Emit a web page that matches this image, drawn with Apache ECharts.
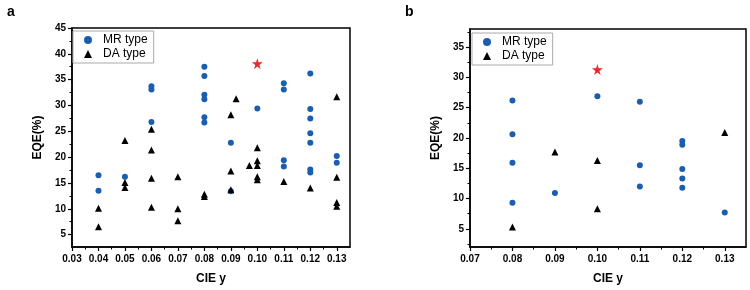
<!DOCTYPE html>
<html>
<head>
<meta charset="utf-8">
<script src="https://cdn.jsdelivr.net/npm/echarts@6/dist/echarts.min.js"></script>
<style>
  html, body { margin: 0; padding: 0; background: #fff; }
  #chart { width: 750px; height: 290px; }
</style>
</head>
<body>
<div id="chart"></div>
<script>
// Panel a: [CIE y, EQE(%)]
const mrA = [
  [0.04, 16.5], [0.04, 13.5], [0.05, 16.2], [0.06, 33.7], [0.06, 33.1], [0.06, 26.8],
  [0.08, 37.5], [0.08, 35.7], [0.08, 32.1], [0.08, 31.2], [0.08, 27.7], [0.08, 26.7],
  [0.09, 22.8], [0.09, 13.4], [0.10, 29.4], [0.11, 34.3], [0.11, 33.1], [0.11, 19.4],
  [0.11, 18.2], [0.12, 36.2], [0.12, 29.3], [0.12, 27.5], [0.12, 24.6], [0.12, 22.8],
  [0.12, 17.6], [0.12, 17.0], [0.13, 20.2], [0.13, 18.9]
];
const daA = [
  [0.04, 10.1], [0.04, 6.5], [0.05, 23.2], [0.05, 15.1], [0.05, 14.1], [0.06, 25.4],
  [0.06, 21.4], [0.06, 15.9], [0.06, 10.3], [0.07, 16.2], [0.07, 10.0], [0.07, 7.7],
  [0.08, 12.8], [0.08, 12.4], [0.09, 28.2], [0.092, 31.3], [0.09, 17.3], [0.09, 13.7],
  [0.097, 18.4], [0.10, 21.8], [0.10, 19.3], [0.10, 18.4], [0.10, 16.2], [0.10, 15.6],
  [0.11, 15.3], [0.12, 14.0], [0.13, 31.7], [0.13, 16.1], [0.13, 11.2], [0.13, 10.5]
];
const starA = [[0.10, 38.1]];

// Panel b
const mrB = [
  [0.08, 26.2], [0.08, 20.6], [0.08, 15.9], [0.08, 9.3], [0.09, 10.9], [0.10, 26.9],
  [0.11, 26.0], [0.11, 15.5], [0.11, 12.0], [0.12, 19.5], [0.12, 18.9], [0.12, 14.9],
  [0.12, 13.3], [0.12, 11.8], [0.13, 7.7]
];
const daB = [[0.08, 5.3], [0.09, 17.7], [0.10, 16.3], [0.10, 8.3], [0.13, 20.9]];
const starB = [[0.10, 31.3]];

// tick values
const xTicksA = [0.03, 0.04, 0.05, 0.06, 0.07, 0.08, 0.09, 0.10, 0.11, 0.12, 0.13];
const xMinorA = [0.035, 0.045, 0.055, 0.065, 0.075, 0.085, 0.095, 0.105, 0.115, 0.125];
const yTicksA = [5, 10, 15, 20, 25, 30, 35, 40, 45];
const yMinorA = [7.5, 12.5, 17.5, 22.5, 27.5, 32.5, 37.5, 42.5];
const xTicksB = [0.07, 0.08, 0.09, 0.10, 0.11, 0.12, 0.13];
const xMinorB = [0.075, 0.085, 0.095, 0.105, 0.115, 0.125];
const yTicksB = [5, 10, 15, 20, 25, 30, 35];
const yMinorB = [2.5, 7.5, 12.5, 17.5, 22.5, 27.5, 32.5, 37.5];

const BLUE = '#1b5eae';
const STAR = 'path://M50,0 L61,35 L98,35 L68,57 L79,91 L50,70 L21,91 L32,57 L2,35 L39,35 Z';
const FONT = 'Liberation Sans, Arial, sans-serif';

const chart = echarts.init(document.getElementById('chart'));

function mainAxis(grid, min, max, ticks, isX, name) {
  return {
    type: 'value', gridIndex: grid, min: min, max: max,
    position: isX ? 'bottom' : 'left',
    name: name, nameLocation: 'middle', nameGap: isX ? 26 : 28,
    nameRotate: isX ? 0 : 90,
    nameTextStyle: { fontFamily: FONT, fontWeight: 'bold', fontSize: 12, color: '#000' },
    axisLine: { show: true, onZero: false, lineStyle: { color: '#000', width: 1.5 } },
    axisTick: { show: true, length: 4, customValues: ticks, lineStyle: { color: '#000', width: 1.2 } },
    axisLabel: {
      customValues: ticks, margin: isX ? 7 : 6,
      fontFamily: FONT, fontWeight: 'bold', fontSize: 10, color: '#000',
      formatter: v => isX ? v.toFixed(2) : String(v)
    },
    splitLine: { show: false }
  };
}
function minorAxis(grid, min, max, ticks, isX) {
  return {
    type: 'value', gridIndex: grid, min: min, max: max,
    position: isX ? 'bottom' : 'left', offset: 0,
    axisLine: { show: false, onZero: false },
    axisTick: { show: true, length: 2.5, customValues: ticks, lineStyle: { color: '#000', width: 1 } },
    axisLabel: { show: false },
    splitLine: { show: false }
  };
}
function legendAt(left, top) {
  return {
    left: left, top: top, orient: 'vertical',
    data: ['MR type', 'DA type'],
    itemWidth: 8, itemHeight: 8, itemGap: 2,
    padding: [3, 6, 3, 11],
    borderColor: '#aaa', borderWidth: 1, backgroundColor: '#fff',
    textStyle: { fontFamily: FONT, fontSize: 12, color: '#000', padding: [0, 0, 0, 6] },
    selectedMode: false
  };
}
function scatter(name, data, xi, yi, sym, color, size) {
  return {
    name: name, type: 'scatter', data: data, xAxisIndex: xi, yAxisIndex: yi,
    symbol: sym, symbolSize: size, itemStyle: { color: color, opacity: 1 }, z: 3
  };
}

chart.setOption({
  animation: false,
  title: [
    { text: 'a', left: 2, top: 0, textStyle: { fontFamily: FONT, fontWeight: 'bold', fontSize: 14, color: '#000' } },
    { text: 'b', left: 400, top: 0, textStyle: { fontFamily: FONT, fontWeight: 'bold', fontSize: 14, color: '#000' } }
  ],
  grid: [
    { left: 72, right: 400, top: 28, bottom: 39, show: true, borderColor: '#000', borderWidth: 1.5 },
    { left: 470, right: 4, top: 29, bottom: 38, show: true, borderColor: '#000', borderWidth: 1.5 }
  ],
  legend: [legendAt(73, 31), legendAt(472, 33)],
  xAxis: [
    mainAxis(0, 0.03, 0.135, xTicksA, true, 'CIE y'),
    minorAxis(0, 0.03, 0.135, xMinorA, true),
    mainAxis(1, 0.07, 0.135, xTicksB, true, 'CIE y'),
    minorAxis(1, 0.07, 0.135, xMinorB, true)
  ],
  yAxis: [
    mainAxis(0, 2.6, 45, yTicksA, false, 'EQE(%)'),
    minorAxis(0, 2.6, 45, yMinorA, false),
    mainAxis(1, 2, 38, yTicksB, false, 'EQE(%)'),
    minorAxis(1, 2, 38, yMinorB, false)
  ],
  series: [
    scatter('MR type', mrA, 0, 0, 'circle', BLUE, 6),
    scatter('DA type', daA, 0, 0, 'triangle', '#000', 7),
    scatter('star', starA, 0, 0, STAR, '#e8292e', 11),
    scatter('MR type', mrB, 2, 2, 'circle', BLUE, 6),
    scatter('DA type', daB, 2, 2, 'triangle', '#000', 7),
    scatter('star', starB, 2, 2, STAR, '#e8292e', 11)
  ]
});
</script>
</body>
</html>
